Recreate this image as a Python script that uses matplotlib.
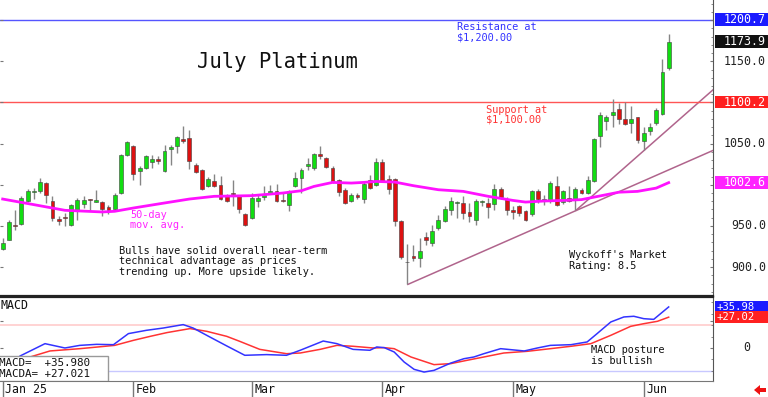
import numpy as np
import matplotlib
matplotlib.use("Agg")
import matplotlib.pyplot as plt
from matplotlib.patches import Rectangle
from matplotlib.transforms import blended_transform_factory
from matplotlib.ticker import MultipleLocator, NullFormatter

# ---- data (one candle per trading day from Jan 2) ----
opens = [922.0, 933.5, 951.0, 952.9, 979.9, 991.5, 992.0, 1002.5, 980.7, 958.9,
         960.5, 951.6, 969.0, 977.1, 982.3, 979.0, 979.1, 973.0, 970.6, 990.0,
         1035.6, 1047.3, 1016.2, 1021.0, 1027.1, 1031.5, 1016.2, 1043.3, 1047.3, 1055.8,
         1057.4, 1024.3, 1018.2, 998.9, 1004.9, 1000.1, 988.0, 989.5, 987.2, 964.9,
         959.7, 980.7, 984.7, 990.0, 992.8, 981.0, 975.1, 998.1, 1008.2, 1022.3,
         1020.3, 1037.2, 1032.4, 1021.0, 1006.1, 994.0, 980.7, 988.0, 983.1, 1006.1,
         999.3, 1027.5, 1006.9, 1006.9, 956.5, 906.5, 914.0, 910.5, 936.7, 929.4,
         947.6, 955.7, 969.8, 978.0, 977.9, 967.0, 956.9, 979.6, 977.9, 976.7,
         994.8, 983.1, 969.8, 973.8, 967.8, 964.6, 992.0, 979.9, 979.9, 998.9,
         978.7, 984.1, 981.9, 994.0, 990.0, 1004.1, 1059.4, 1078.0, 1084.9, 1091.7,
         1080.0, 1074.8, 1082.0, 1052.6, 1065.9, 1074.8, 1085.7, 1142.2]
highs = [935.0, 957.7, 969.0, 986.0, 994.8, 996.0, 1008.2, 1003.3, 986.0, 961.7,
         965.8, 977.0, 983.9, 986.0, 982.7, 994.0, 979.9, 975.5, 990.0, 1037.6,
         1053.8, 1048.1, 1022.3, 1035.6, 1036.4, 1035.0, 1048.5, 1048.5, 1059.4, 1071.5,
         1066.7, 1026.3, 1019.0, 1009.4, 1013.4, 1010.2, 989.0, 1006.0, 988.0, 965.8,
         990.0, 988.0, 998.0, 1000.0, 1001.0, 990.0, 993.2, 1015.0, 1020.3, 1032.4,
         1038.4, 1047.3, 1033.6, 1022.3, 1007.0, 996.0, 990.0, 990.0, 1004.0, 1012.2,
         1032.4, 1031.6, 1012.0, 1007.7, 957.7, 928.2, 927.4, 935.5, 942.4, 950.8,
         963.8, 974.6, 985.2, 979.9, 986.0, 977.9, 982.7, 981.9, 983.9, 1001.3,
         996.9, 985.2, 973.8, 975.0, 969.8, 994.0, 994.8, 987.2, 1004.1, 1010.2,
         994.0, 998.1, 997.3, 996.0, 1010.2, 1056.6, 1088.9, 1084.9, 1104.2, 1098.9,
         1100.2, 1095.8, 1082.8, 1069.9, 1075.6, 1092.9, 1152.3, 1183.0]
lows = [921.0, 932.7, 945.6, 951.6, 979.1, 982.7, 990.0, 977.9, 955.7, 951.6,
        949.6, 949.6, 957.7, 971.8, 967.8, 978.7, 962.5, 964.9, 967.8, 989.0,
        1034.4, 1006.1, 1000.0, 1019.0, 1020.3, 1025.0, 1015.0, 1024.3, 1039.2, 1050.5,
        1019.0, 1014.2, 994.0, 997.0, 997.0, 981.9, 978.7, 973.8, 965.8, 949.6,
        958.5, 973.0, 981.9, 988.8, 978.7, 978.7, 968.0, 997.0, 990.0, 1018.2,
        1018.2, 1031.2, 1020.3, 1002.1, 986.0, 977.1, 979.1, 983.0, 977.9, 994.8,
        998.1, 1002.9, 989.0, 949.6, 910.0, 879.0, 907.2, 900.0, 927.4, 925.4,
        945.6, 954.9, 963.8, 959.7, 958.5, 954.5, 951.6, 974.6, 959.7, 969.8,
        983.1, 963.8, 958.9, 961.7, 955.7, 962.5, 977.9, 975.1, 977.9, 973.8,
        977.1, 978.7, 969.8, 989.2, 988.8, 1002.9, 1046.5, 1066.7, 1070.7, 1074.0,
        1073.0, 1062.7, 1050.5, 1042.5, 1060.6, 1072.8, 1084.9, 1139.4]
closes = [929.4, 954.9, 950.2, 983.9, 992.0, 992.8, 1003.3, 988.0, 959.7, 956.5,
          959.3, 975.0, 981.9, 981.9, 981.5, 981.9, 970.6, 969.8, 987.2, 1036.0,
          1051.8, 1013.0, 1021.0, 1034.4, 1031.2, 1029.5, 1040.5, 1046.5, 1057.8, 1052.6,
          1029.5, 1015.0, 995.2, 1006.9, 998.9, 982.7, 980.7, 988.5, 970.6, 950.8,
          983.9, 983.9, 988.0, 992.8, 979.9, 979.9, 992.0, 1008.2, 1018.2, 1025.1,
          1037.6, 1034.4, 1021.5, 1003.3, 991.2, 977.9, 988.0, 984.7, 1000.9, 996.0,
          1027.5, 1004.1, 995.2, 956.5, 912.3, 906.0, 911.3, 919.3, 932.7, 944.4,
          957.7, 970.6, 980.7, 978.4, 965.8, 961.7, 979.9, 980.0, 973.0, 994.8,
          984.7, 969.8, 966.6, 965.8, 957.7, 992.0, 982.7, 982.7, 1002.1, 975.9,
          992.0, 979.9, 995.2, 990.0, 1006.1, 1055.4, 1084.9, 1082.0, 1088.1, 1079.6,
          1074.0, 1079.6, 1054.6, 1062.7, 1070.7, 1090.9, 1136.5, 1173.9]

# 50-day moving average, read at these day indices
ma_days = [0, 5, 10, 16, 18, 21, 26, 30, 34, 40, 45, 48, 50, 53, 56, 58, 60,
           63, 66, 70, 74, 78, 82, 84, 87, 90, 93, 97, 99, 102, 105, 107]
ma_vals = [982.7, 975.9, 969.0, 967.0, 967.8, 971.8, 977.9, 982.7, 986.0, 986.8,
           990.0, 992.8, 998.0, 1002.9, 1002.1, 1002.9, 1004.1,
           1003.3, 998.9, 994.0, 992.0, 986.0, 981.0, 979.0, 980.3, 981.0, 982.0,
           988.0, 991.0, 992.0, 996.0, 1002.6]

# MACD and its average, read at these day indices
macd_days = [2.8, 6.8, 10.0, 12.4, 15.1, 17.8, 20.2, 23.1, 25.8, 29.0, 30.6, 33.3,
             36.0, 38.9, 42.4, 45.6, 47.8, 51.5, 53.7, 56.3, 59.0, 60.1, 61.3, 62.9,
             64.5, 66.1, 67.7, 69.3, 72.0, 74.1, 75.7, 77.3, 80.0, 83.8, 85.9, 88.0,
             91.3, 93.9, 95.5, 97.7, 99.8, 101.4, 103.0, 104.6, 105.7, 107.0]
macd_vals = [-7.0, 3.8, 0.0, 2.3, 3.2, 2.9, 12.6, 15.5, 17.5, 20.5, 17.5, 9.6,
             1.8, -6.4, -5.8, -6.4, -2.0, 6.1, 3.8, -1.2, -2.0, 0.9, 0.3, -3.5,
             -12.3, -18.7, -21.1, -19.6, -13.2, -9.4, -7.9, -5.0, -0.6, -2.6, 0.0, 2.3,
             2.9, 5.3, 12.6, 22.8, 27.2, 27.8, 25.7, 25.1, 30.1, 35.98]
macda_days = [4.4, 7.6, 12.4, 18.0, 21.0, 23.7, 26.4, 30.1, 32.8, 36.0, 38.1, 41.3,
              45.6, 47.8, 51.0, 53.7, 56.3, 59.5, 61.3, 62.9, 65.6, 69.3, 72.0, 74.6,
              77.3, 80.5, 84.3, 88.0, 91.3, 94.5, 97.7, 100.9, 103.0, 105.2, 107.0]
macda_vals = [-7.9, -2.6, -0.6, 2.3, 6.7, 10.2, 13.5, 17.0, 14.6, 10.2, 5.8, -1.2,
              -5.0, -4.4, -1.2, 2.3, 1.5, 0.0, 0.3, -0.6, -7.9, -14.6, -13.7, -10.8,
              -7.9, -4.4, -2.9, -0.6, 1.5, 3.8, 11.1, 19.0, 21.3, 23.4, 27.02]

# trend lines (start day, start price) -> (end day, end price)
trend_lines = [((65.1, 879.0), (114.2, 1042.0)),
               ((92.1, 968.9), (114.2, 1115.9))]

month_days = [0, 21, 40, 61, 82, 103]
month_labels = ["Jan 25", "Feb", "Mar", "Apr", "May", "Jun"]

resistance = 1200.7
support = 1100.2
macd_last = 35.980
macda_last = 27.021

# ---- figure ----
W, H = 768, 397
fig = plt.figure(figsize=(W / 100, H / 100), dpi=100)
mono = "DejaVu Sans Mono"


def fx(px):
    return px / W


def fy(py):
    return 1 - py / H


ax = fig.add_axes([0, fy(296), fx(713.3), fy(0) - fy(296)])
ax2 = fig.add_axes([0, fy(381.3), fx(713.3), fy(297) - fy(381.3)], sharex=ax)

n = len(closes)
days = np.arange(n)
o = np.array(opens)
c = np.array(closes)
up = c >= o
body_lo = np.minimum(o, c)
body_h = np.maximum(np.abs(c - o), 0.8)
colors = np.where(up, "#11dd11", "#dd1111")

ax.vlines(days, lows, highs, color="#858585", lw=1, zorder=2)
ax.bar(days, body_h, bottom=body_lo, width=0.62, color=colors,
       edgecolor="#404040", linewidth=0.4, zorder=3)

ax.plot(ma_days, ma_vals, color="#ff11ff", lw=2, zorder=4)

for (x0, y0), (x1, y1) in trend_lines:
    ax.plot([x0, x1], [y0, y1], color="#b0648c", lw=1.1, zorder=1)

ax.axhline(resistance, color="#5555ff", lw=1, zorder=1)
ax.axhline(support, color="#ff5555", lw=1, zorder=1)

ax.set_xlim(-0.43, 114.17)
ax.set_ylim(864.9, 1224.5)

for s in ["top", "left"]:
    ax.spines[s].set_visible(False)
ax.spines["bottom"].set_color("#222222")
ax.spines["bottom"].set_linewidth(1.6)
ax.spines["right"].set_color("#555555")
ax.yaxis.set_major_locator(MultipleLocator(50))
ax.yaxis.set_minor_locator(MultipleLocator(10))
ax.yaxis.set_major_formatter(NullFormatter())
ax.tick_params(axis="y", which="both", direction="in", left=True, right=True,
               length=2.5, color="#777777")
ax.tick_params(axis="y", which="minor", left=False, length=1.5)
ax.tick_params(axis="x", bottom=False, labelbottom=False)

# right-side price labels
tr = blended_transform_factory(fig.transFigure, ax.transData)
plain = [1150.0, 1050.0, 950.0, 900.0]
for v in plain:
    ax.text(fx(766), v, f"{v:.1f}", transform=tr,
            ha="right", va="center", fontsize=8.4, family=mono, color="#222222")

boxed = [(resistance, "#1a1aff"), (c[-1], "#111111"), (support, "#ff2020"),
         (ma_vals[-1], "#ff22ff")]
for v, col in boxed:
    ax.add_patch(Rectangle((fx(715), v - 7.5), fx(767.5) - fx(715), 15, transform=tr,
                           facecolor=col, edgecolor="none", clip_on=False, zorder=5))
    ax.text(fx(766), v, f"{v:.1f}", transform=tr, ha="right", va="center",
            fontsize=8.4, family=mono, color="white", clip_on=False, zorder=6)

# annotations
txt = dict(transform=fig.transFigure, family=mono, ha="left", va="center")
ax.text(fx(197), fy(62), "July Platinum", fontsize=14.8, color="#111111", **txt)
ax.text(fx(457), fy(27.5), "Resistance at", fontsize=7.4, color="#3333ff", **txt)
ax.text(fx(457), fy(37.5), "$1,200.00", fontsize=7.4, color="#3333ff", **txt)
ax.text(fx(486), fy(110), "Support at", fontsize=7.4, color="#ff3333", **txt)
ax.text(fx(486), fy(120), "$1,100.00", fontsize=7.4, color="#ff3333", **txt)
ax.text(fx(130.5), fy(215), "50-day", fontsize=7.4, color="#ff22ff", **txt)
ax.text(fx(130.5), fy(225.5), "mov. avg.", fontsize=7.4, color="#ff22ff", **txt)
for i, line in enumerate(["Bulls have solid overall near-term",
                          "technical advantage as prices",
                          "trending up. More upside likely."]):
    ax.text(fx(119), fy(250.5 + 10.7 * i), line, fontsize=7.4, color="#111111", **txt)
ax.text(fx(569), fy(255.5), "Wyckoff's Market", fontsize=7.4, color="#111111", **txt)
ax.text(fx(569), fy(266.2), "Rating: 8.5", fontsize=7.4, color="#111111", **txt)

# ---- MACD panel ----
ax2.axhline(20, color="#ffcccc", lw=1.2, zorder=1)
ax2.axhline(-20, color="#c8c8ff", lw=1, zorder=1)
ax2.plot(macda_days, macda_vals, color="#ff3333", lw=1.1, zorder=3)
ax2.plot(macd_days, macd_vals, color="#3333ff", lw=1.1, zorder=4)
ax2.set_ylim(-29.2, 44.7)

ax2.spines["left"].set_visible(False)
ax2.spines["top"].set_color("#222222")
ax2.spines["top"].set_linewidth(1.6)
ax2.spines["bottom"].set_color("#777777")
ax2.spines["right"].set_color("#555555")
ax2.set_yticks([0, 23.5])
ax2.yaxis.set_minor_locator(MultipleLocator(10))
ax2.yaxis.set_major_formatter(NullFormatter())
ax2.tick_params(axis="y", which="both", direction="in", left=True, right=True,
                length=2.5, color="#777777")
ax2.tick_params(axis="y", which="minor", left=False, length=1.5)

ax2.set_xticks(month_days)
ax2.set_xticklabels([])
ax2.tick_params(axis="x", direction="out", length=11.5, width=1, color="#777777")
for d, lab in zip(month_days, month_labels):
    ax2.annotate(lab, xy=(d, 0), xycoords=("data", "axes fraction"),
                 xytext=(1.8, -5.8), textcoords="offset points", ha="left", va="center",
                 fontsize=8.4, family=mono, color="#111111", annotation_clip=False)

tr2 = blended_transform_factory(fig.transFigure, ax2.transData)
ax2.text(fx(747), 0, "0", transform=tr2, ha="center", va="center",
         fontsize=8.4, family=mono, color="#222222")
for v, col in [(macd_vals[-1], "#1a1aff"), (macda_vals[-1], "#ff2020")]:
    ax2.add_patch(Rectangle((fx(715), v - 5.1), fx(767.5) - fx(715), 10.2, transform=tr2,
                            facecolor=col, edgecolor="none", clip_on=False, zorder=5))
    ax2.text(fx(716.5), v, f"+{v:.2f}", transform=tr2, ha="left", va="center",
             fontsize=7.6, family=mono, color="white", clip_on=False, zorder=6)

ax2.text(fx(0.5), fy(305.5), "MACD", fontsize=8.4, color="#111111", **txt)
ax2.text(fx(591), fy(350.3), "MACD posture", fontsize=7.4, color="#111111", **txt)
ax2.text(fx(591), fy(360.7), "is bullish", fontsize=7.4, color="#111111", **txt)

ax2.add_patch(Rectangle((fx(-2), fy(381.3)), fx(108.5) - fx(-2), fy(356) - fy(381.3),
                        transform=fig.transFigure, facecolor="white", edgecolor="#999999",
                        lw=1, zorder=7))
ax2.text(fx(-1), fy(362.5), "MACD=  +%.3f" % macd_last, fontsize=7.8, color="#111111",
         zorder=8, **txt)
ax2.text(fx(-1), fy(374.0), "MACDA= +%.3f" % macda_last, fontsize=7.8, color="#111111",
         zorder=8, **txt)

# small red arrow, bottom right
fig.patches.append(plt.Polygon([[fx(754), fy(390)], [fx(760), fy(385)], [fx(760), fy(388)],
                                [fx(766), fy(388)], [fx(766), fy(392)], [fx(760), fy(392)],
                                [fx(760), fy(395)]], closed=True, transform=fig.transFigure,
                               facecolor="#ee1111", edgecolor="none"))

fig.savefig("out.png", dpi=100)
